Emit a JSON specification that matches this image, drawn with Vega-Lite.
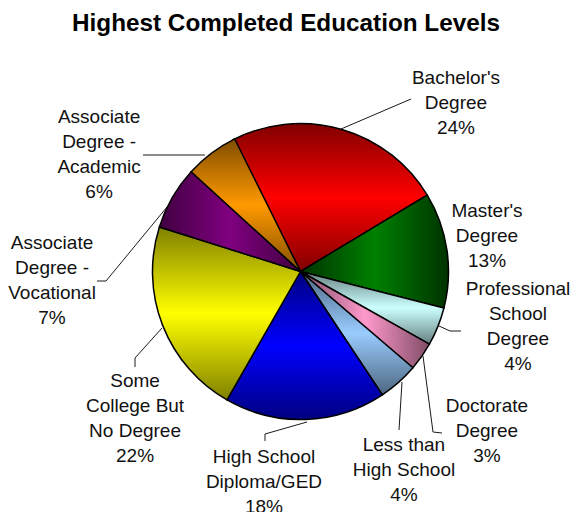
{
"$schema":"https://vega.github.io/schema/vega-lite/v6.json",
"width":552,"height":486,
"autosize":{"type":"none"},
"padding":{"left":24.5,"top":28.5,"right":0.5,"bottom":-2.5},
"background":"white",
"view":{"stroke":null},
"title":{"text":"Highest Completed Education Levels","font":"Liberation Sans","fontSize":24.3,"fontWeight":"bold","color":"#000000","anchor":"middle","frame":"group","dx":-14.5,"dy":8,"offset":0},
"datasets":{
"slices":[
{"slice":"Bachelor's Degree","rank":1,"share":23.9,"label":"Bachelor's\nDegree\n24%"},
{"slice":"Master's Degree","rank":2,"share":12.6,"label":"Master's\nDegree\n13%"},
{"slice":"Professional School Degree","rank":3,"share":4.2,"label":"Professional\nSchool\nDegree\n4%"},
{"slice":"Doctorate Degree","rank":4,"share":3.1,"label":"Doctorate\nDegree\n3%"},
{"slice":"Less than High School","rank":5,"share":4.4,"label":"Less than\nHigh School\n4%"},
{"slice":"High School Diploma/GED","rank":6,"share":17.6,"label":"High School\nDiploma/GED\n18%"},
{"slice":"Some College But No Degree","rank":7,"share":21.6,"label":"Some\nCollege But\nNo Degree\n22%"},
{"slice":"Associate Degree - Vocational","rank":8,"share":6.9,"label":"Associate\nDegree -\nVocational\n7%"},
{"slice":"Associate Degree - Academic","rank":9,"share":5.9,"label":"Associate\nDegree -\nAcademic\n6%"}
],
"leaders":[
{"slice":"Bachelor's Degree","step":1,"x":341,"y":129},{"slice":"Bachelor's Degree","step":2,"x":411,"y":99},
{"slice":"Professional School Degree","step":1,"x":439,"y":326},{"slice":"Professional School Degree","step":2,"x":450,"y":331},{"slice":"Professional School Degree","step":3,"x":461,"y":331},
{"slice":"Doctorate Degree","step":1,"x":423,"y":356},{"slice":"Doctorate Degree","step":2,"x":433,"y":432},{"slice":"Doctorate Degree","step":3,"x":442,"y":433},
{"slice":"Less than High School","step":1,"x":402,"y":382},{"slice":"Less than High School","step":2,"x":399,"y":430},
{"slice":"High School Diploma/GED","step":1,"x":307,"y":422},{"slice":"High School Diploma/GED","step":2,"x":265,"y":434},{"slice":"High School Diploma/GED","step":3,"x":265,"y":441},
{"slice":"Some College But No Degree","step":1,"x":162,"y":328},{"slice":"Some College But No Degree","step":2,"x":135,"y":358},{"slice":"Some College But No Degree","step":3,"x":135,"y":367},
{"slice":"Associate Degree - Vocational","step":1,"x":167,"y":207},{"slice":"Associate Degree - Vocational","step":2,"x":106,"y":281},{"slice":"Associate Degree - Vocational","step":3,"x":97,"y":281},
{"slice":"Associate Degree - Academic","step":1,"x":205,"y":155},{"slice":"Associate Degree - Academic","step":2,"x":143,"y":155}
]
},
"layer":[
{
"data":{"name":"leaders"},
"mark":{"type":"line","color":"#1a1a1a","strokeWidth":1,"interpolate":"linear"},
"encoding":{
"x":{"field":"x","type":"quantitative","axis":null,"scale":{"domain":[24.5,576.5],"nice":false,"zero":false}},
"y":{"field":"y","type":"quantitative","axis":null,"scale":{"domain":[514.5,28.5],"nice":false,"zero":false}},
"detail":{"field":"slice"},
"order":{"field":"step"}
}
},
{
"data":{"name":"slices"},
"transform":[{"stack":"share","sort":[{"field":"rank"}],"as":["a0","a1"]}],
"encoding":{
"theta":{"field":"a0","type":"quantitative","scale":{"domain":[0,100],"range":[-0.473,5.810]}},
"theta2":{"field":"a1"}
},
"layer":[
{"transform":[{"filter":"datum.rank==1"}],"mark":{"type":"arc","outerRadius":148,"innerRadius":0,"stroke":"#000000","strokeWidth":1.5,"fill":{"gradient":"linear","x1":0,"y1":0,"x2":0,"y2":1,"stops":[{"offset":0,"color":"#800000"},{"offset":0.5,"color":"#ff0000"},{"offset":1,"color":"#800000"}]}}},
{"transform":[{"filter":"datum.rank==2"}],"mark":{"type":"arc","outerRadius":148,"innerRadius":0,"stroke":"#000000","strokeWidth":1.5,"fill":{"gradient":"linear","x1":0,"y1":0,"x2":1,"y2":0,"stops":[{"offset":0,"color":"#003300"},{"offset":0.5,"color":"#008000"},{"offset":1,"color":"#003300"}]}}},
{"transform":[{"filter":"datum.rank==3"}],"mark":{"type":"arc","outerRadius":148,"innerRadius":0,"stroke":"#000000","strokeWidth":1.5,"fill":{"gradient":"linear","x1":0,"y1":0,"x2":0,"y2":1,"stops":[{"offset":0,"color":"#668080"},{"offset":0.5,"color":"#ccffff"},{"offset":1,"color":"#668080"}]}}},
{"transform":[{"filter":"datum.rank==4"}],"mark":{"type":"arc","outerRadius":148,"innerRadius":0,"stroke":"#000000","strokeWidth":1.5,"fill":{"gradient":"linear","x1":0,"y1":0,"x2":1,"y2":0,"stops":[{"offset":0,"color":"#804d66"},{"offset":0.5,"color":"#ff99cc"},{"offset":1,"color":"#804d66"}]}}},
{"transform":[{"filter":"datum.rank==5"}],"mark":{"type":"arc","outerRadius":148,"innerRadius":0,"stroke":"#000000","strokeWidth":1.5,"fill":{"gradient":"linear","x1":0,"y1":0,"x2":0,"y2":1,"stops":[{"offset":0,"color":"#4d6680"},{"offset":0.5,"color":"#99ccff"},{"offset":1,"color":"#4d6680"}]}}},
{"transform":[{"filter":"datum.rank==6"}],"mark":{"type":"arc","outerRadius":148,"innerRadius":0,"stroke":"#000000","strokeWidth":1.5,"fill":{"gradient":"linear","x1":0,"y1":0,"x2":0,"y2":1,"stops":[{"offset":0,"color":"#000080"},{"offset":0.5,"color":"#0000ff"},{"offset":1,"color":"#000080"}]}}},
{"transform":[{"filter":"datum.rank==7"}],"mark":{"type":"arc","outerRadius":148,"innerRadius":0,"stroke":"#000000","strokeWidth":1.5,"fill":{"gradient":"linear","x1":0,"y1":0,"x2":0,"y2":1,"stops":[{"offset":0,"color":"#808000"},{"offset":0.5,"color":"#ffff00"},{"offset":1,"color":"#808000"}]}}},
{"transform":[{"filter":"datum.rank==8"}],"mark":{"type":"arc","outerRadius":148,"innerRadius":0,"stroke":"#000000","strokeWidth":1.5,"fill":{"gradient":"linear","x1":0,"y1":0,"x2":1,"y2":0,"stops":[{"offset":0,"color":"#400040"},{"offset":0.5,"color":"#800080"},{"offset":1,"color":"#400040"}]}}},
{"transform":[{"filter":"datum.rank==9"}],"mark":{"type":"arc","outerRadius":148,"innerRadius":0,"stroke":"#000000","strokeWidth":1.5,"fill":{"gradient":"linear","x1":0,"y1":0,"x2":0,"y2":1,"stops":[{"offset":0,"color":"#804d00"},{"offset":0.5,"color":"#ff9900"},{"offset":1,"color":"#804d00"}]}}}
]
},
{
"data":{"name":"slices"},
"mark":{"type":"text","font":"Liberation Sans","fontSize":19,"lineHeight":25,"lineBreak":"\n","align":"center","baseline":"middle","color":"#111111"},
"encoding":{
"text":{"field":"label"},
"theta":{"field":"rank","type":"quantitative","scale":{"type":"linear","zero":false,"nice":false,
"domain":[1,2,3,4,5,6,7,8,9],
"range":[0.677,1.257,1.651,2.196,2.604,3.336,4.128,4.827,5.367]}},
"radius":{"field":"rank","type":"quantitative","scale":{"type":"linear","zero":false,"nice":false,
"domain":[1,2,3,4,5,6,7,8,9],
"range":[248.2,196.1,218.2,229.9,202.0,189.1,198.4,250.1,253.9]}}
}
}
],
"resolve":{"scale":{"theta":"independent","radius":"independent"}}
}
